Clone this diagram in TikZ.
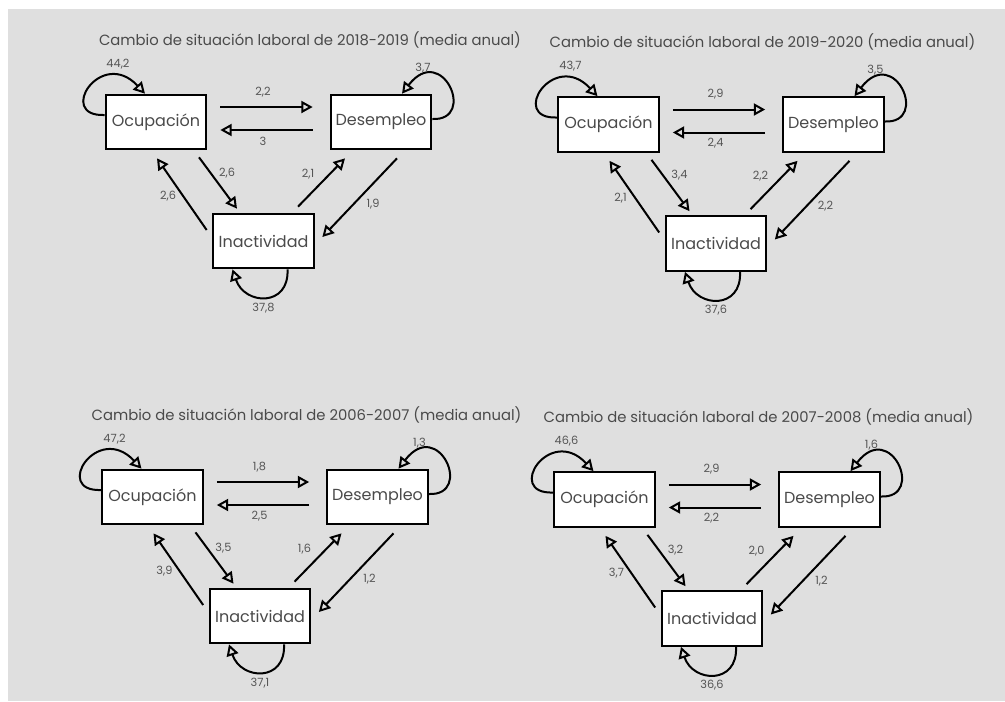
\documentclass[tikz,border=0pt]{standalone}
\usepackage{fontspec}
\setmainfont{Poppins}
\usetikzlibrary{arrows.meta,calc}

\definecolor{panelgray}{HTML}{DFDFDF}
\definecolor{textgray}{HTML}{4A4A4A}
\definecolor{numgray}{HTML}{555555}

\tikzset{
  state/.style={draw, fill=white, line width=1.5pt, minimum width=75.5pt,
    minimum height=41pt, inner sep=0pt, text=textgray,
    font=\fontsize{12}{14}\selectfont},
  flow/.style={line width=1.5pt, -{Triangle[open, length=8.5pt, width=9pt]}},
  num/.style={text=numgray, inner sep=0pt, font=\fontsize{8.5}{10}\selectfont},
  paneltitle/.style={anchor=base, inner sep=0pt, text=textgray,
    font=\fontsize{11.1}{13}\selectfont}
}

\begin{document}
\begin{tikzpicture}[x=0.75pt, y=-0.75pt]

  % Background
  \useasboundingbox (0,0) rectangle (1005,701);
  \fill[panelgray] (8,9) rectangle (1005,701);

  % One panel per period
  \foreach \n/\px/\py/\yrs/\fOO/\fOD/\fDO/\fOI/\fIO/\fID/\fDI/\fDD/\fII in {
      1/156/122/2018-2019/{44,2}/{2,2}/3/{2,6}/{2,6}/{2,1}/{1,9}/{3,7}/{37,8},
      2/608.5/124.5/2019-2020/{43,7}/{2,9}/{2,4}/{3,4}/{2,1}/{2,2}/{2,2}/{3,5}/{37,6},
      3/152.5/497/2006-2007/{47,2}/{1,8}/{2,5}/{3,5}/{3,9}/{1,6}/{1,2}/{1,3}/{37,1},
      4/604.5/499.5/2007-2008/{46,6}/{2,9}/{2,2}/{3,2}/{3,7}/{2,0}/{1,2}/{1,6}/{36,6}}
  {
    % States
    \node[state] (O\n) at (\px,\py) {Ocupación};
    \node[state] (D\n) at ($(O\n)+(225,0)$) {Desempleo};
    \node[state] (I\n) at ($(O\n)+(107.5,119)$) {Inactividad};

    % Title
    \node[paneltitle] (T\n) at ($(O\n)+(154,-77)$)
      {Cambio de situación laboral de \yrs{} (media anual)};

    % Transitions
    \draw[flow] ($(O\n.east)+(13,-15)$) -- ($(D\n.west)+(-17,-15)$);
    \draw[flow] ($(D\n.west)+(-17,8)$) -- ($(O\n.east)+(13,8)$);
    \draw[flow] ($(O\n.south)+(43,7)$) -- ($(I\n.north)+(-26.5,-4)$);
    \draw[flow] ($(I\n.west)+(-5.5,-11)$) -- ($(O\n.south)+(1,8)$);
    \draw[flow] ($(I\n.north)+(34.5,-6)$) -- ($(D\n.south)+(-36,8)$);
    \draw[flow] ($(D\n.south)+(16,8)$) -- ($(I\n.east)+(7.5,-4)$);

    % Staying in the same state
    \draw[flow] ($(O\n.west)+(0,-7)$) .. controls +(-49,2) and +(-44,-47) .. ($(O\n.north)+(-11,0)$);
    \draw[flow] ($(D\n.east)+(0,-3)$) .. controls +(45,2) and +(40,-52) .. ($(D\n.north)+(21,0)$);
    \draw[flow] ($(I\n.south)+(24,0)$) .. controls +(2,38) and +(12,36) .. ($(I\n.south)+(-31,0)$);

    % Values
    \node[num] (nOD\n) at ($(O\n)+(107,-30)$) {\fOD};
    \node[num] (nDO\n) at ($(O\n)+(107,19)$) {\fDO};
    \node[num] (nOI\n) at ($(O\n)+(71,51)$) {\fOI};
    \node[num] (nIO\n) at ($(O\n)+(12,74)$) {\fIO};
    \node[num] (nID\n) at ($(O\n)+(152,52)$) {\fID};
    \node[num] (nDI\n) at ($(O\n)+(217,82)$) {\fDI};
    \node[num] (nOO\n) at ($(O\n)+(-38,-58)$) {\fOO};
    \node[num] (nDD\n) at ($(O\n)+(267,-54)$) {\fDD};
    \node[num] (nII\n) at ($(O\n)+(107.5,186)$) {\fII};
  }

\end{tikzpicture}
\end{document}
